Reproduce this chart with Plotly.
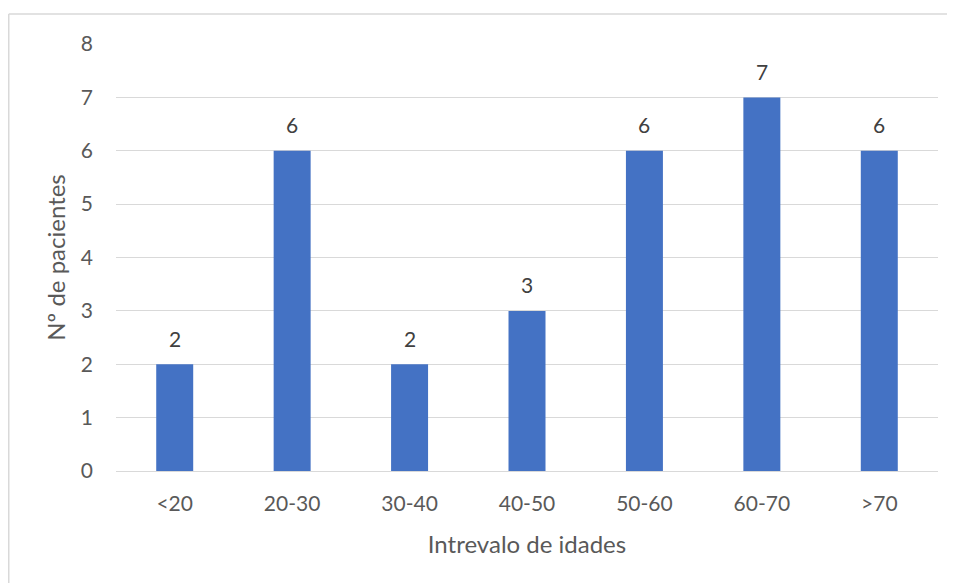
import plotly.graph_objects as go

categories = ["<20", "20-30", "30-40", "40-50", "50-60", "60-70", ">70"]
values = [2, 6, 2, 3, 6, 7, 6]
y_ticks = [0, 1, 2, 3, 4, 5, 6, 7, 8]

# page has an 8px body margin, so the figure is sized to fit the window
W, H = 947, 575
L, R, T, B = 108, 17, 36, 112
pw, ph = W - L - R, H - T - B

font_family = "Lato, 'Open Sans', sans-serif"
txt = "#595959"

fig = go.Figure(go.Bar(
    x=categories, y=values, width=0.315,
    marker=dict(color="#4472C4", line=dict(width=0)),
    hoverinfo="x+y",
))

for c, v in zip(categories, values):
    fig.add_annotation(x=c, y=v, text=str(v), showarrow=False,
                       yanchor="middle", yshift=26,
                       font=dict(size=21, color="#404040", family=font_family))

bx = (0.75 - L) / pw
by = 1 + (T - 6) / ph
fig.update_layout(
    width=W, height=H,
    margin=dict(l=L, r=R, t=T, b=B),
    paper_bgcolor="white", plot_bgcolor="white",
    font=dict(family=font_family, color=txt),
    showlegend=False,
    xaxis=dict(
        showgrid=False, showline=False, zeroline=False,
        tickfont=dict(size=21, color=txt), ticklabelstandoff=18,
        title=dict(text="Intrevalo de idades", font=dict(size=24, color=txt), standoff=22),
    ),
    yaxis=dict(
        range=[0, 8], tickvals=y_ticks, showgrid=True, gridcolor="#D9D9D9", gridwidth=1.3,
        zeroline=True, zerolinecolor="#D9D9D9", zerolinewidth=1.3, showline=False,
        tickfont=dict(size=21, color=txt), ticklabelstandoff=22,
        title=dict(text="Nº de pacientes", font=dict(size=24, color=txt), standoff=8),
    ),
    shapes=[
        dict(type="line", xref="paper", yref="paper",
             x0=bx, x1=bx, y0=by, y1=-(B + 10) / ph,
             line=dict(color="#D9D9D9", width=1.5)),
        dict(type="line", xref="paper", yref="paper",
             x0=bx, x1=(W + 10 - L) / pw, y0=by, y1=by,
             line=dict(color="#D9D9D9", width=1.5)),
    ],
)

fig.write_html("out.html")
